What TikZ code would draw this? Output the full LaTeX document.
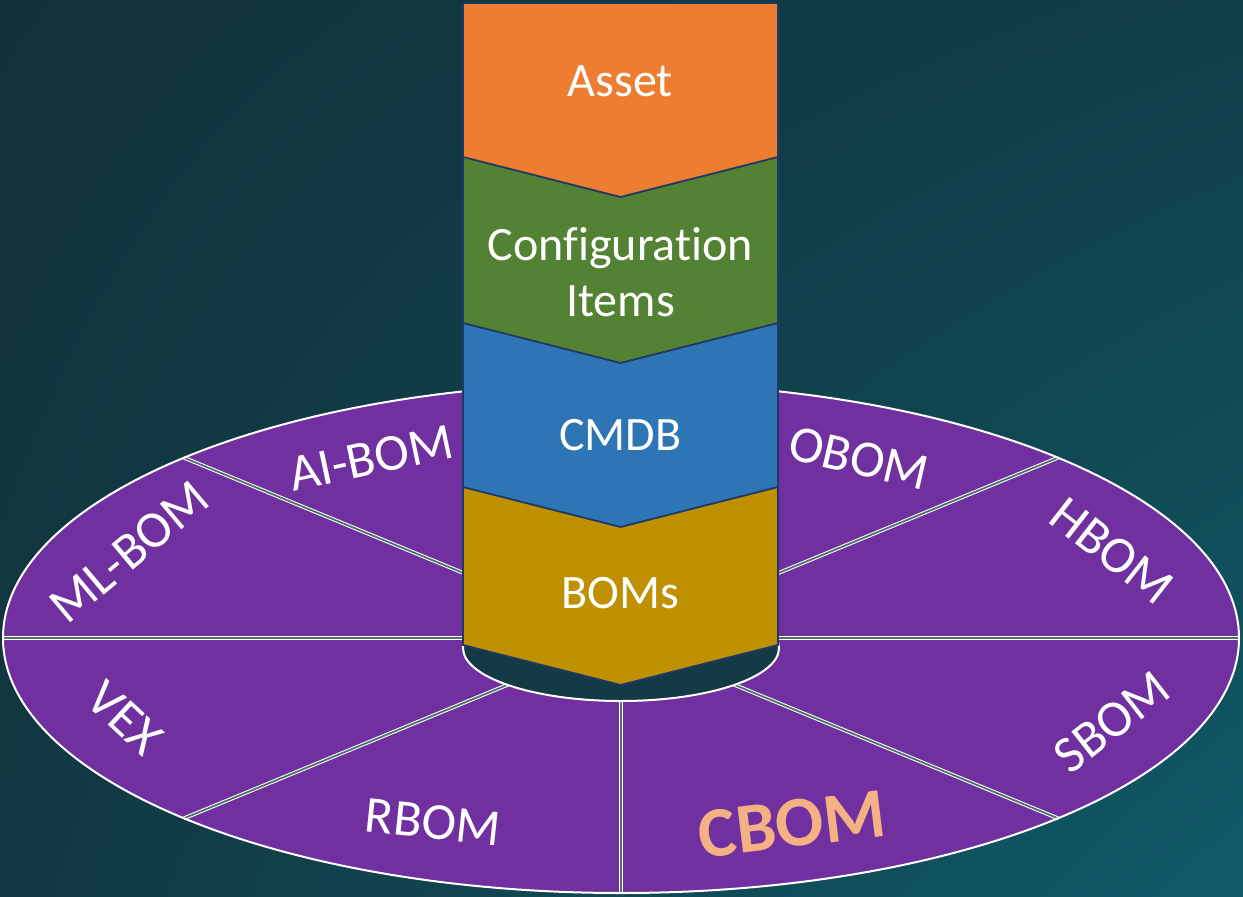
\documentclass[tikz,border=0pt]{standalone}
\usepackage{fontspec}
\setmainfont{Carlito}[Ligatures=NoCommon]
\usetikzlibrary{calc,shadings}

% palette
\definecolor{bgTL}{RGB}{17,50,60}
\definecolor{bgTR}{RGB}{16,62,72}
\definecolor{bgBL}{RGB}{17,56,66}
\definecolor{bgBR}{RGB}{16,90,104}
\definecolor{ringpurple}{RGB}{112,48,160}
\definecolor{holefill}{RGB}{19,58,69}
\definecolor{divgray}{RGB}{80,112,104}
\definecolor{tiernavy}{RGB}{31,56,100}
\definecolor{assetorange}{RGB}{237,125,49}
\definecolor{cigreen}{RGB}{84,130,53}
\definecolor{cmdbblue}{RGB}{46,117,182}
\definecolor{bomgold}{RGB}{191,144,0}
\definecolor{cbompeach}{RGB}{244,177,131}

\tikzset{
  divider/.style={draw=white, double=divgray, double distance=1.8pt, line width=1pt},
  tier/.style={draw=tiernavy, line width=1.8pt, line join=miter},
  tiertext/.style={text=white, font=\fontsize{48}{56}\selectfont, inner sep=0pt, align=center},
  ringtext/.style={text=white, font=\fontsize{52}{60}\selectfont, inner sep=0pt},
  hightext/.style={text=cbompeach, font=\bfseries\fontsize{71}{80}\selectfont, inner sep=0pt}
}

\begin{document}
\begin{tikzpicture}[x=1pt,y=-1pt]
\useasboundingbox (0,0) rectangle (1243,897);

% backdrop
\shade[upper left=bgTL, upper right=bgTR, lower left=bgBL, lower right=bgBR]
  (0,0) rectangle (1243,897);

% outer ring
\coordinate (c) at (621,638);
\fill[ringpurple] (c) ellipse [x radius=618pt, y radius=255pt];
\foreach \t in {0,45,...,315}{
  \coordinate (r\t) at ({621+618*cos(\t)},{638-255*sin(\t)});
  \draw[divider] (c) -- (r\t);
}
\draw[white, line width=2pt] (c) ellipse [x radius=618pt, y radius=255pt];

% hole under the stack
\coordinate (h) at (621,648);
\draw[white, line width=2pt, fill=holefill] (h) ellipse [x radius=158pt, y radius=53pt];

% stacked chevrons, lowest first
\filldraw[tier, fill=bomgold]    (463,487) -- (778,487) -- (778,645) -- (620.5,685) -- (463,645) -- cycle;
\filldraw[tier, fill=cmdbblue]   (463,323) -- (778,323) -- (778,487) -- (620.5,527) -- (463,487) -- cycle;
\filldraw[tier, fill=cigreen]    (463,157) -- (778,157) -- (778,323) -- (620.5,363) -- (463,323) -- cycle;
\filldraw[tier, fill=assetorange](463,3)   -- (778,3)   -- (778,157) -- (620.5,197) -- (463,157) -- cycle;

\node[tiertext] (asset) at (620.5,81) {Asset};
\node[tiertext] (ci)    at (620.5,272) {Configuration\\Items};
\node[tiertext] (cmdb)  at (620.5,435) {CMDB};
\node[tiertext] (boms)  at (620.5,593) {BOMs};

% ring labels
\node[ringtext, rotate=12]  (aibom) at (371,458) {AI-BOM};
\node[ringtext, rotate=-13] (obom)  at (859,458) {OBOM};
\node[ringtext, rotate=40]  (mlbom) at (129,552) {ML-BOM};
\node[ringtext, rotate=-38] (hbom)  at (1112,551) {HBOM};
\node[ringtext, rotate=-43] (vex)   at (125,718) {VEX};
\node[ringtext, rotate=38]  (sbom)  at (1112,722) {SBOM};
\node[ringtext, rotate=-6]  (rbom)  at (433,822) {RBOM};
\node[hightext, rotate=7]   (cbom)  at (792,824) {CBOM};
\end{tikzpicture}
\end{document}
